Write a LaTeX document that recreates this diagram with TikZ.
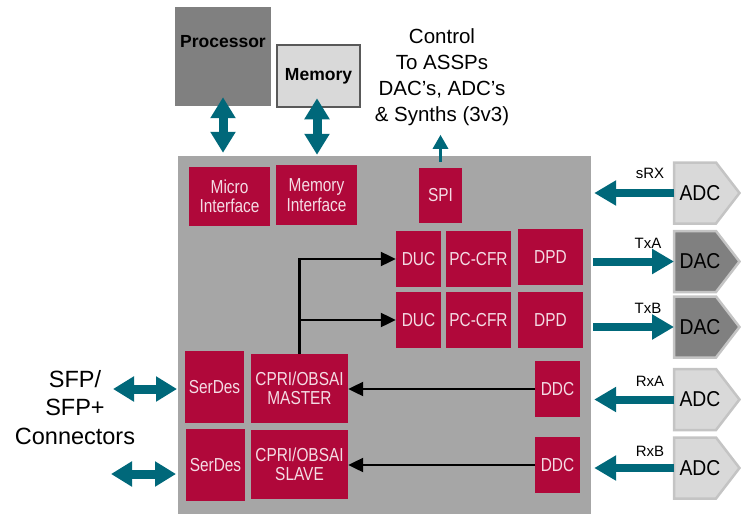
\documentclass[tikz,border=0pt]{standalone}
\usepackage{fontspec}
\setmainfont{Liberation Sans}
\newfontfamily\narrowsf[FakeStretch=0.82]{Liberation Sans}
\newfontfamily\convsf[FakeStretch=0.9]{Liberation Sans}
\usetikzlibrary{arrows.meta}

\definecolor{chipred}{HTML}{B0083A}
\definecolor{blktext}{HTML}{F4DCE4}
\definecolor{linkteal}{HTML}{00687A}
\definecolor{fpgagray}{HTML}{A6A6A6}
\definecolor{darkbox}{HTML}{808080}
\definecolor{lightbox}{HTML}{D9D9D9}
\definecolor{rimgray}{HTML}{C4C4C4}

\begin{document}
\begin{tikzpicture}[x=1pt,y=-1pt,
		blk/.style={fill=chipred,text=blktext,inner sep=0,align=center,
			font=\narrowsf\fontsize{18.8}{19.5}\selectfont},
		fat/.style={draw=linkteal,line width=8pt,-{Triangle[width=24pt,length=22pt]}},
		dbl/.style={draw=linkteal,line width=9pt,
			{Triangle[width=24pt,length=21pt]}-{Triangle[width=24pt,length=21pt]}},
		sig/.style={draw=black,line width=2.2pt,-{Triangle[width=14pt,length=15pt]}},
		conv/.style={draw=rimgray,line width=2.5pt,line join=miter},
		convtext/.style={font=\convsf\fontsize{21.5}{21.5}\selectfont,text=black},
		tag/.style={font=\fontsize{15}{15}\selectfont,text=black}]
	\useasboundingbox (0,0) rectangle (741,514);
	
	% outside parts
	\node[fill=darkbox,minimum width=96pt,minimum height=99pt] (proc) at (223,56.5) {};
	\node[font=\bfseries\fontsize{17.5}{17.5}\selectfont] (proctxt) at (223,42) {Processor};
	\node[fill=lightbox,draw=black!65,line width=2.5pt,minimum width=83pt,minimum height=62pt,
		font=\bfseries\fontsize{17.5}{17.5}\selectfont] (mem) at (318.5,76) {Memory};
	\node[align=center,font=\fontsize{20.5}{26}\selectfont] (ctrl) at (442,77.5)
		{Control\\To ASSPs\\DAC's, ADC's\\\& Synths (3v3)};
	\node[align=center,font=\fontsize{23.5}{28.5}\selectfont] (sfp) at (75,407.5)
		{SFP/\\SFP+\\Connectors};
	
	% the device
	\node[fill=fpgagray,minimum width=413pt,minimum height=358pt] (fpga) at (384.5,335) {};
	
	\node[blk,minimum width=81pt,minimum height=59pt] (micro) at (229.5,196.5) {Micro\\Interface};
	\node[blk,minimum width=81pt,minimum height=60pt] (memif) at (316.5,195) {Memory\\Interface};
	\node[blk,minimum width=43pt,minimum height=55pt] (spi) at (440.5,195.5) {SPI};
	
	\foreach \i/\y in {1/259,2/320}{
		\node[blk,minimum width=45pt,minimum height=56pt] (duc\i) at (418.5,\y) {DUC};
		\node[blk,minimum width=65pt,minimum height=56pt] (cfr\i) at (478.5,\y) {PC-CFR};
	}
	\node[blk,minimum width=65pt,minimum height=56pt] (dpd1) at (550.5,257) {DPD};
	\node[blk,minimum width=65pt,minimum height=56pt] (dpd2) at (550.5,320) {DPD};
	
	\node[blk,minimum width=45pt,minimum height=56pt] (ddc1) at (557.5,389) {DDC};
	\node[blk,minimum width=45pt,minimum height=56pt] (ddc2) at (557.5,465) {DDC};
	
	\node[blk,minimum width=59pt,minimum height=72pt] (serdes1) at (214.5,387) {SerDes};
	\node[blk,minimum width=59pt,minimum height=72pt] (serdes2) at (215.5,465) {SerDes};
	\node[blk,minimum width=97pt,minimum height=69pt] (master) at (299.5,388.5) {CPRI/OBSAI\\MASTER};
	\node[blk,minimum width=97pt,minimum height=69pt] (slave) at (299.5,464.5) {CPRI/OBSAI\\SLAVE};
	
	% converters
	\foreach \n/\y/\c/\t in {srx/193/lightbox/ADC,txa/261.5/darkbox/DAC,txb/327/darkbox/DAC,
		rxa/399.5/lightbox/ADC,rxb/468/lightbox/ADC}{
		\filldraw[conv,fill=\c] (674,\y-30.5) -- (716,\y-30.5) -- (739.5,\y) -- (716,\y+30.5) -- (674,\y+30.5) -- cycle;
		\coordinate (\n) at (674,\y);
		\node[convtext] (\n txt) at (700,\y) {\t};
	}
	
	% links
	\draw[dbl] ([yshift=9pt]proc.south) -- ([yshift=3pt]proc.south |- fpga.north);
	\draw[dbl] ([xshift=-1.5pt,yshift=10pt]mem.south) -- ([xshift=-1.5pt,yshift=1pt]mem.south |- fpga.north);
	\draw[draw=linkteal,line width=3pt,-{Triangle[width=15pt,length=14pt]}]
		([yshift=6pt]spi.north) -- ([yshift=33pt]spi.north);
	
	\coordinate (sfpa) at (113,389);
	\coordinate (sfpb) at (111,474);
	\draw[dbl] (sfpa) -- (177,389);
	\draw[dbl] (sfpb) -- (176,474);
	
	\draw[fat,shorten >=3pt] (srx) -- (fpga.east |- srx);
	\draw[fat,shorten <=2pt] (fpga.east |- txa) -- (txa);
	\draw[fat,shorten <=2pt] (fpga.east |- txb) -- (txb);
	\draw[fat,shorten >=3pt] (rxa) -- (fpga.east |- rxa);
	\draw[fat,shorten >=3pt] (rxb) -- (fpga.east |- rxb);
	
	\node[tag] (srxtag) at (650,173) {sRX};
	\node[tag] (txatag) at (648,243) {TxA};
	\node[tag] (txbtag) at (648,308) {TxB};
	\node[tag] (rxatag) at (650,381) {RxA};
	\node[tag] (rxbtag) at (650,451) {RxB};
	
	\draw[sig] (master.north) |- (duc1.west);
	\draw[sig] (master.north |- duc2.west) -- (duc2.west);
	\draw[sig] (ddc1.west) -- (ddc1.west -| master.east);
	\draw[sig] (ddc2.west) -- (ddc2.west -| slave.east);
\end{tikzpicture}
\end{document}
